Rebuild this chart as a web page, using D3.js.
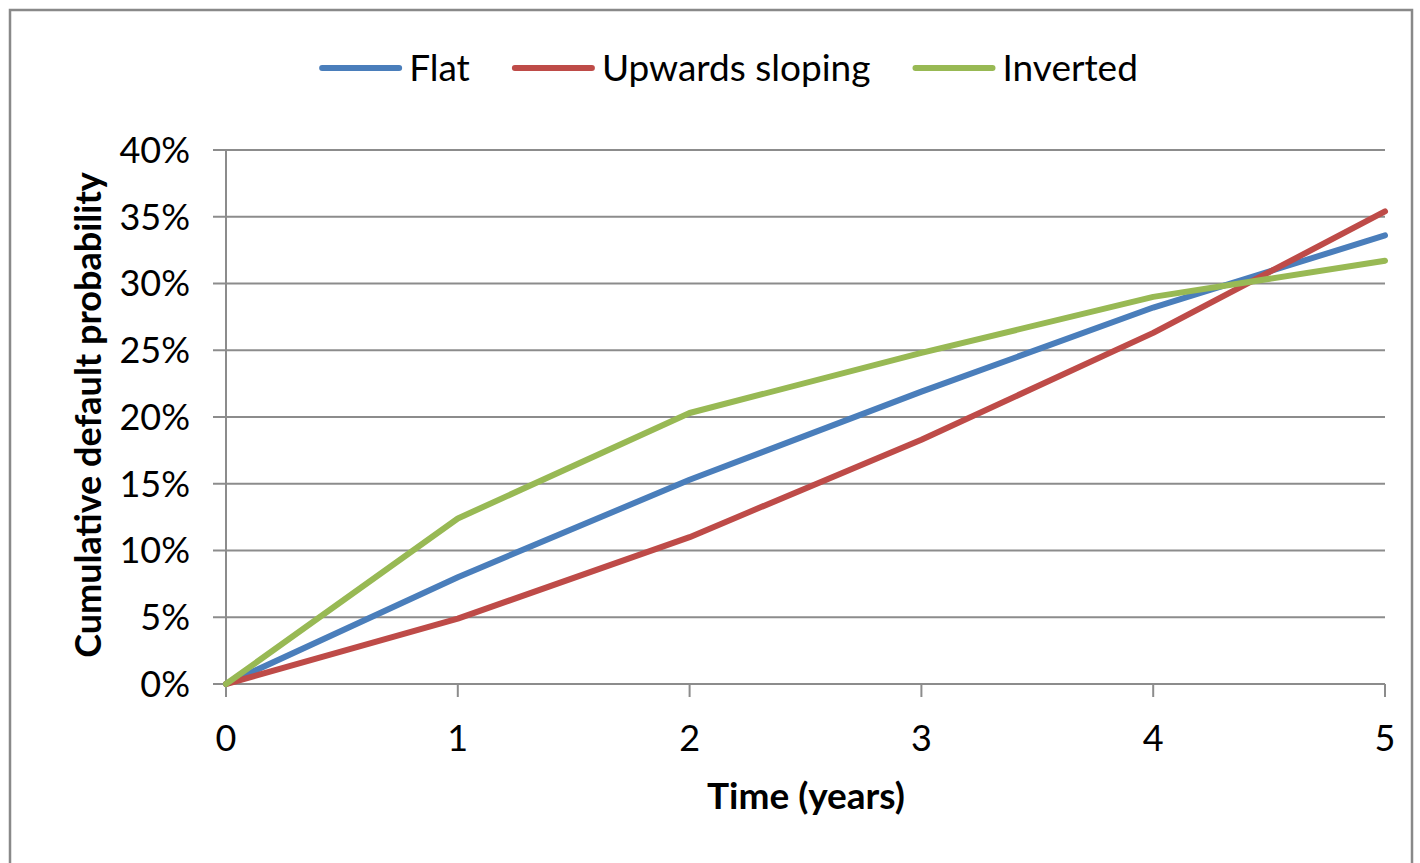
<!DOCTYPE html>
<html>
<head>
<meta charset="utf-8">
<script src="https://cdn.jsdelivr.net/npm/d3@7"></script>
<style>
  html, body { margin: 0; padding: 0; background: #fff; }
  svg { display: block; }
  text { font-family: Lato, "Open Sans", sans-serif; fill: #000; }
</style>
</head>
<body>
<svg id="chart" width="1420" height="863"></svg>
<script>
// ---- data ----
const years = [0, 1, 2, 3, 4, 5];
const flat = [0, 0.080, 0.153, 0.219, 0.282, 0.336];
const upwards = [0, 0.049, 0.110, 0.183, 0.263, 0.354];
const inverted = [0, 0.124, 0.203, 0.248, 0.290, 0.317];
const seriesNames = ["Flat", "Upwards sloping", "Inverted"];
const seriesColors = ["#4a7ebb", "#be4b48", "#98b954"];
const yTicks = [0, 0.05, 0.10, 0.15, 0.20, 0.25, 0.30, 0.35, 0.40];
const xTicks = [0, 1, 2, 3, 4, 5];
const xTitle = "Time (years)";
const yTitle = "Cumulative default probability";

const seriesValues = [flat, upwards, inverted];

const svg = d3.select("#chart");

// outer frame
svg.append("rect")
  .attr("x", 10).attr("y", 10)
  .attr("width", 1402).attr("height", 880)
  .attr("fill", "none").attr("stroke", "#898989").attr("stroke-width", 2.5);

const plot = { left: 226, right: 1385, top: 150, bottom: 684 };
const x = d3.scaleLinear().domain([0, 5]).range([plot.left, plot.right]);
const y = d3.scaleLinear().domain([0, 0.40]).range([plot.bottom, plot.top]);

const gridColor = "#8c8c8c";

// horizontal gridlines with left tick extension
svg.append("g").selectAll("line")
  .data(yTicks)
  .join("line")
  .attr("x1", plot.left - 13).attr("x2", plot.right)
  .attr("y1", d => y(d)).attr("y2", d => y(d))
  .attr("stroke", gridColor).attr("stroke-width", 2);

// y axis line
svg.append("line")
  .attr("x1", plot.left).attr("x2", plot.left)
  .attr("y1", plot.top).attr("y2", plot.bottom + 13)
  .attr("stroke", gridColor).attr("stroke-width", 2);

// x tick marks
svg.append("g").selectAll("line")
  .data(xTicks)
  .join("line")
  .attr("x1", d => x(d)).attr("x2", d => x(d))
  .attr("y1", plot.bottom).attr("y2", plot.bottom + 13)
  .attr("stroke", gridColor).attr("stroke-width", 2);

// y tick labels
svg.append("g").selectAll("text")
  .data(yTicks)
  .join("text")
  .attr("x", 190).attr("y", d => y(d))
  .attr("dy", "0.36em")
  .attr("text-anchor", "end")
  .attr("font-size", 36)
  .text(d => d3.format(".0%")(d));

// x tick labels
svg.append("g").selectAll("text")
  .data(xTicks)
  .join("text")
  .attr("x", d => x(d)).attr("y", 738)
  .attr("dy", "0.36em")
  .attr("text-anchor", "middle")
  .attr("font-size", 36)
  .text(d => d);

// axis titles
svg.append("text")
  .attr("x", 806).attr("y", 796)
  .attr("dy", "0.36em")
  .attr("text-anchor", "middle")
  .attr("font-size", 37).attr("font-weight", "bold")
  .text(xTitle);

svg.append("text")
  .attr("transform", "translate(88,415) rotate(-90)")
  .attr("dy", "0.36em")
  .attr("text-anchor", "middle")
  .attr("font-size", 36).attr("font-weight", "bold")
  .text(yTitle);

// series lines
const line = d3.line()
  .x((d, i) => x(years[i]))
  .y(d => y(d));

svg.append("g").selectAll("path")
  .data(seriesValues)
  .join("path")
  .attr("d", d => line(d))
  .attr("fill", "none")
  .attr("stroke", (d, i) => seriesColors[i])
  .attr("stroke-width", 6)
  .attr("stroke-linejoin", "round")
  .attr("stroke-linecap", "round");

// legend
const legend = svg.append("g");
const legendY = 68;
const sampleLen = 77, sampleGap = 10, itemGap = 45;
const items = legend.selectAll("g")
  .data(seriesNames)
  .join("g");
items.append("line")
  .attr("x1", 0).attr("x2", sampleLen)
  .attr("y1", legendY).attr("y2", legendY)
  .attr("stroke", (d, i) => seriesColors[i])
  .attr("stroke-width", 6)
  .attr("stroke-linecap", "round");
items.append("text")
  .attr("x", sampleLen + sampleGap).attr("y", legendY)
  .attr("dy", "0.36em")
  .attr("font-size", 37)
  .text(d => d);
let cx = 0;
const offsets = [];
items.each(function(d, i) {
  const tw = d3.select(this).select("text").node().getComputedTextLength();
  const w = sampleLen + sampleGap + tw;
  offsets.push(cx);
  cx += w + itemGap;
});
const total = cx - itemGap;
const startX = 730 - total / 2;
items.attr("transform", (d, i) => `translate(${startX + offsets[i]},0)`);
</script>
</body>
</html>
